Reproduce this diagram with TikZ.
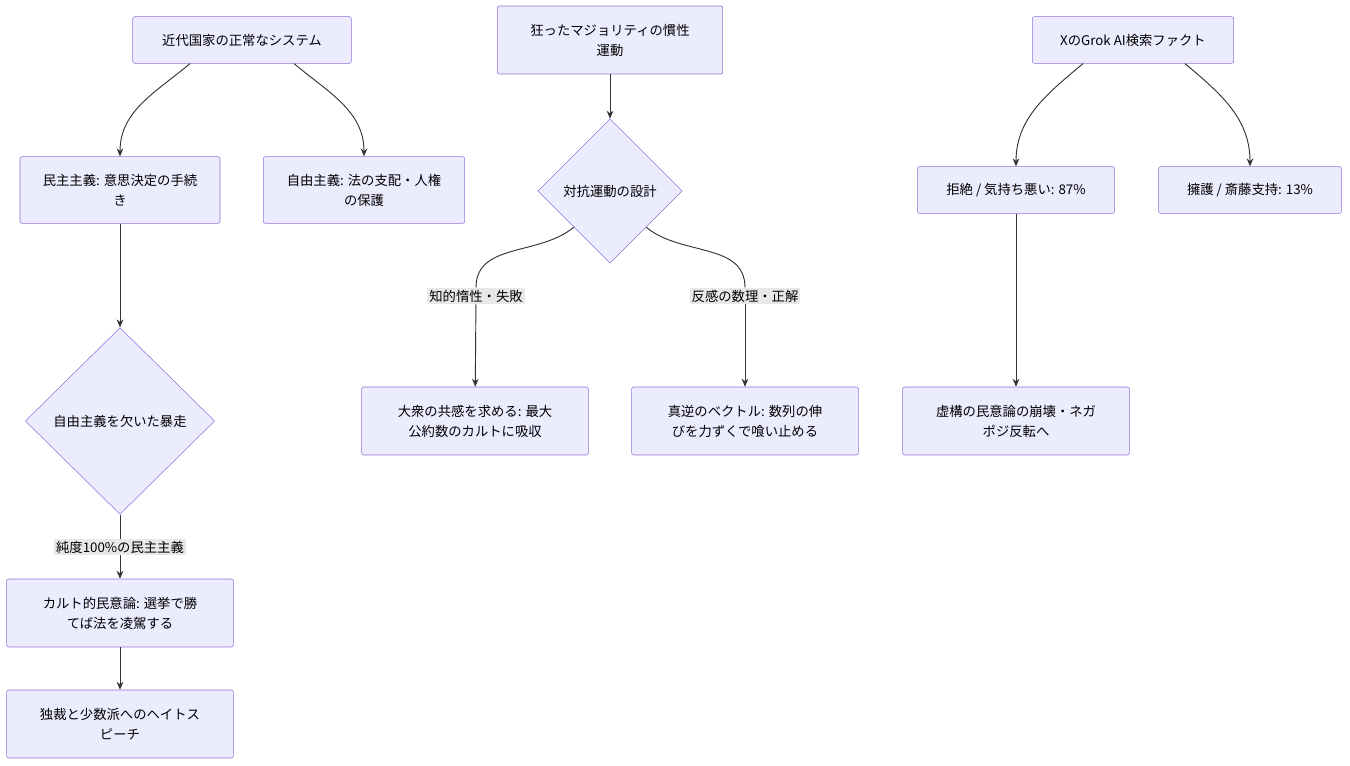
\documentclass[tikz,border=0pt]{standalone}
\usepackage{fontspec}
\setmainfont{Noto Sans CJK JP}
\usetikzlibrary{arrows.meta,shapes.geometric}
\definecolor{boxfill}{HTML}{ECECFF}
\definecolor{boxline}{HTML}{9370DB}
\definecolor{edgecol}{HTML}{333333}
\definecolor{lblfill}{HTML}{E8E8E8}
\begin{document}
\begin{tikzpicture}[x=0.75pt, y=-0.75pt,
    box/.style={draw=boxline, fill=boxfill, rounded corners=1.5pt, align=center, font=\fontsize{10}{15}\selectfont, inner sep=0pt},
    dia/.style={draw=boxline, fill=boxfill, shape=diamond, align=center, font=\fontsize{10}{15}\selectfont, inner sep=0pt},
    lbl/.style={fill=lblfill, font=\fontsize{10}{15}\selectfont, inner sep=1.5pt},
    edge/.style={draw=edgecol, line width=0.7pt},
    arr/.style={edge, -{Stealth[length=6pt,width=5pt]}}]
    \useasboundingbox (0,0) rectangle (1350,766);

    % left column
    \node[box, minimum width=164pt, minimum height=35pt] (sys) at (242,40) {近代国家の正常なシステム};
    \node[box, minimum width=150pt, minimum height=50pt] (demo) at (120,190) {民主主義: 意思決定の手続\\き};
    \node[box, minimum width=151pt, minimum height=50pt] (lib) at (364,190) {自由主義: 法の支配・人権\\の保護};
    \node[dia, minimum width=142pt, minimum height=140pt] (run) at (120,421) {自由主義を欠いた暴走};
    \node[box, minimum width=170pt, minimum height=51pt] (cult) at (120,613) {カルト的民意論: 選挙で勝\\てば法を凌駕する};
    \node[box, minimum width=170pt, minimum height=51pt] (hate) at (120,724) {独裁と少数派へのヘイトス\\ピーチ};
    \node[lbl] (pure) at (120,547) {純度100\%の民主主義};

    % middle column
    \node[box, minimum width=169pt, minimum height=51pt] (maj) at (610,40) {狂ったマジョリティの慣性\\運動};
    \node[dia, minimum width=108pt, minimum height=108pt] (plan) at (610,191) {対抗運動の設計};
    \node[box, minimum width=170pt, minimum height=51pt] (mass) at (475,421) {大衆の共感を求める: 最大\\公約数のカルトに吸収};
    \node[box, minimum width=170pt, minimum height=51pt] (vec) at (745,421) {真逆のベクトル: 数列の伸\\びを力ずくで喰い止める};
    \node[lbl] (fail) at (476,296) {知的惰性・失敗};
    \node[lbl] (ok) at (745,296) {反感の数理・正解};

    % right column
    \node[box, minimum width=151pt, minimum height=35pt] (grok) at (1133,40) {XのGrok AI検索ファクト};
    \node[box, minimum width=148pt, minimum height=35pt] (rej) at (1016,190) {拒絶 / 気持ち悪い: 87\%};
    \node[box, minimum width=137pt, minimum height=35pt] (sup) at (1250,190) {擁護 / 斎藤支持: 13\%};
    \node[box, minimum width=170pt, minimum height=51pt] (neg) at (1016,421) {虚構の民意論の崩壊・ネガ\\ポジ反転へ};

    \draw[arr] ([xshift=-39pt]sys.south) to[out=-140, in=90] (demo.north);
    \draw[arr] ([xshift=39pt]sys.south) to[out=-40, in=90] (lib.north);
    \draw[arr] (demo) -- (run);
    \draw[edge] (run) -- (pure);
    \draw[arr] (pure) -- (cult);
    \draw[arr] (cult) -- (hate);

    \draw[arr] (maj) -- (plan);
    \draw[edge] (plan.south west) to[out=-140, in=90] (fail);
    \draw[arr] (fail) -- (mass);
    \draw[edge] (plan.south east) to[out=-40, in=90] (ok);
    \draw[arr] (ok) -- (vec);

    \draw[arr] ([xshift=-37.5pt]grok.south) to[out=-140, in=90] (rej.north);
    \draw[arr] ([xshift=39pt]grok.south) to[out=-40, in=90] (sup.north);
    \draw[arr] (rej) -- (neg);
\end{tikzpicture}
\end{document}
